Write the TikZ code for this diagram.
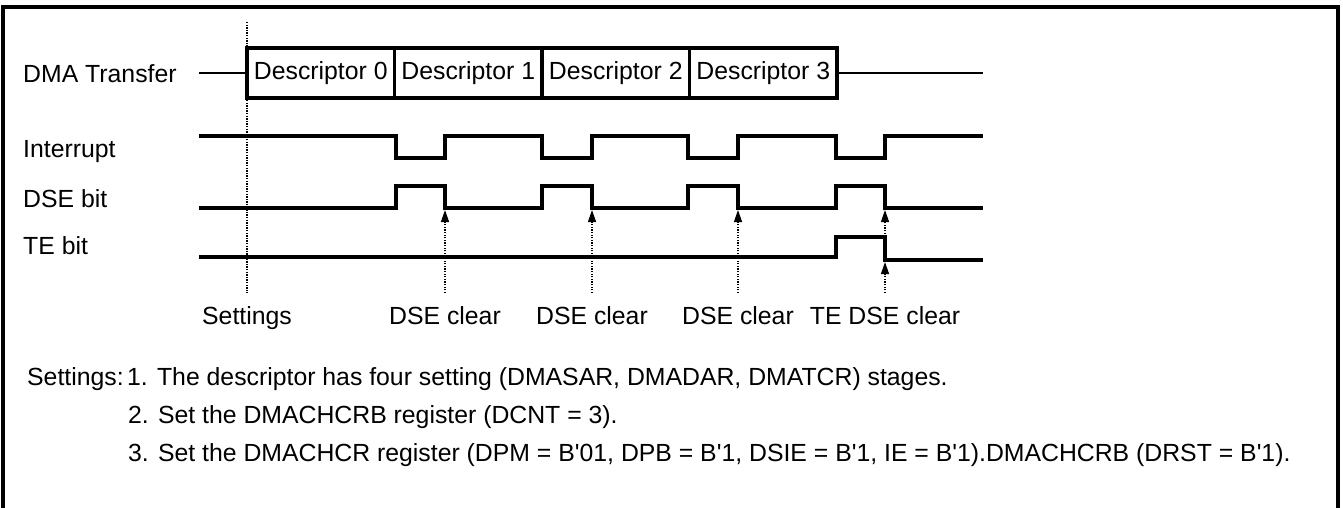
\documentclass[tikz,border=0pt]{standalone}
\usepackage{fontspec}
\setmainfont{Liberation Sans}
\usetikzlibrary{arrows.meta,positioning}

\begin{document}
\begin{tikzpicture}[x=1pt, y=-1pt, >={Triangle[length=12pt,width=8pt]}, font=\fontsize{24.8}{30}\selectfont,
	sig/.style={line width=3.2pt},
	desc/.style={draw, line width=3.2pt, outer sep=0pt, inner sep=0pt, minimum width=147.5pt, minimum height=50pt},
	guide/.style={dash pattern=on 1.3pt off 1.3pt, line width=1.3pt},
	lbl/.style={anchor=base west, inner sep=0pt},
	clr/.style={anchor=base, inner sep=0pt}]
	\useasboundingbox (0,0) rectangle (1343,507);
	\draw[line width=3.2pt] (3,510) -- (3,7) -- (1338,7) -- (1338,510);
	% row names
	\node[lbl] (ldma) at (23,82) {DMA Transfer};
	\node[lbl] (lint) at (23,157) {Interrupt};
	\node[lbl] (ldse) at (23,207) {DSE bit};
	\node[lbl] (lte) at (23,254) {TE bit};
	% descriptors
	\node[desc, anchor=west] (d0) at (247,73) {Descriptor 0};
	\node[desc, right=0pt of d0] (d1) {Descriptor 1};
	\node[desc, right=0pt of d1] (d2) {Descriptor 2};
	\node[desc, right=0pt of d2] (d3) {Descriptor 3};
	\coordinate (dmal) at (199,73); \coordinate (dmar) at (983,73);
	\draw[line width=1.5pt] (dmal) -- (d0); \draw[line width=1.5pt] (d3) -- (dmar);
	% signals
	\draw[sig] (199,136) foreach \a/\b in {396/445,542/592,688/738,836/885}{ -- (\a,136) -- (\a,158) -- (\b,158) -- (\b,136)} -- (983,136);
	\draw[sig] (199,208) foreach \a/\b in {396/445,542/592,688/738,836/885}{ -- (\a,208) -- (\a,186) -- (\b,186) -- (\b,208)} -- (983,208);
	\draw[sig] (199,257) -- (836,257) -- (836,237) -- (885,237) -- (885,260) -- (983,260);
	% clear points
	\coordinate (st) at (247,22); \coordinate (sb) at (247,293);
	\draw[guide] (st) -- (sb);
	\foreach \x/\n in {445/a,592/b,738/c}{
		\coordinate (p\n) at (\x,293); \coordinate (q\n) at (\x,210);
		\draw[guide,->] (p\n) -- (q\n);
	}
	\coordinate (pd) at (885,293); \coordinate (qd) at (885,262);
	\coordinate (re) at (885,239); \coordinate (rf) at (885,210);
	\draw[guide,->] (pd) -- (qd); \draw[guide,->] (re) -- (rf);
	\node[clr] (cset) at (247,324) {Settings};
	\node[clr] (ca) at (445,324) {DSE clear};
	\node[clr] (cb) at (592,324) {DSE clear};
	\node[clr] (cc) at (738,324) {DSE clear};
	\node[clr] (cd) at (885,324) {TE DSE clear};
	% notes
	\node[lbl] (nset) at (27,385) {Settings:};
	\node[lbl] (n1) at (127,385) {1. The descriptor has four setting (DMASAR, DMADAR, DMATCR) stages.};
	\node[lbl] (n2) at (128,423) {2. Set the DMACHCRB register (DCNT = 3).};
	\node[lbl] (n3) at (128,461) {3. Set the DMACHCR register (DPM = B\textquotesingle01, DPB = B\textquotesingle1, DSIE = B\textquotesingle1, IE = B\textquotesingle1).DMACHCRB (DRST = B\textquotesingle1).};
\end{tikzpicture}
\end{document}
